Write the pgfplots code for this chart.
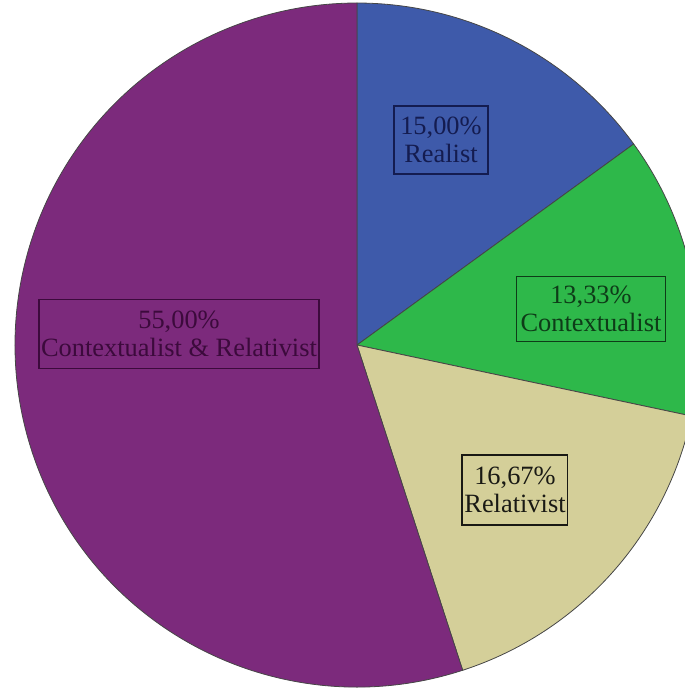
\documentclass[border=0pt]{standalone}
\usepackage{pgfplots}
\pgfplotsset{compat=1.18}
\usepackage{fontspec}
\setmainfont{Liberation Serif}
\definecolor{cBlue}{RGB}{62,90,170}
\definecolor{cGreen}{RGB}{46,184,74}
\definecolor{cBeige}{RGB}{212,207,153}
\definecolor{cPurple}{RGB}{124,42,124}
\definecolor{tBlue}{RGB}{20,28,80}
\definecolor{tGreen}{RGB}{14,60,24}
\definecolor{tBeige}{RGB}{25,25,20}
\definecolor{tPurple}{RGB}{60,10,60}
\definecolor{edgegray}{RGB}{70,70,70}
\begin{document}
\begin{tikzpicture}
\path[use as bounding box] (0,0) rectangle (342.5bp,344bp);
\begin{axis}[x=0.5bp, y=0.5bp, xmin=0, xmax=685, ymin=0, ymax=688,
  y dir=reverse, hide axis, clip=true, anchor=south west, at={(0,0)}]
\def\startang{90}
\foreach \v/\c in {15.00/cBlue,13.33/cGreen,16.67/cBeige,55.00/cPurple}{
  \pgfmathsetmacro\endang{\startang-3.6*\v}
  \edef\temp{\noexpand\fill[\c, draw=edgegray, line width=0.4pt] (axis cs:357,345) -- +(\startang:171bp) arc[start angle=\startang, end angle=\endang, radius=171bp] -- cycle;}
  \temp
  \xdef\startang{\endang}
}
\tikzset{lab/.style={align=center, line width=0.9bp, inner sep=1bp, font=\fontsize{13.2bp}{14bp}\selectfont}}
\node[lab, draw=tBlue, text=tBlue, minimum width=47bp, minimum height=34bp] at (axis cs:441,140) {15,00\%\\Realist};
\node[lab, draw=tGreen, text=tGreen, minimum width=74.5bp, minimum height=32.5bp] at (axis cs:591,309) {13,33\%\\Contextualist};
\node[lab, draw=tBeige, text=tBeige, minimum width=50bp, minimum height=35bp] at (axis cs:515,490) {16,67\%\\Relativist};
\node[lab, draw=tPurple, text=tPurple, minimum width=140bp, minimum height=34.5bp] at (axis cs:179,334) {55,00\%\\Contextualist \& Relativist};
\end{axis}
\end{tikzpicture}
\end{document}
